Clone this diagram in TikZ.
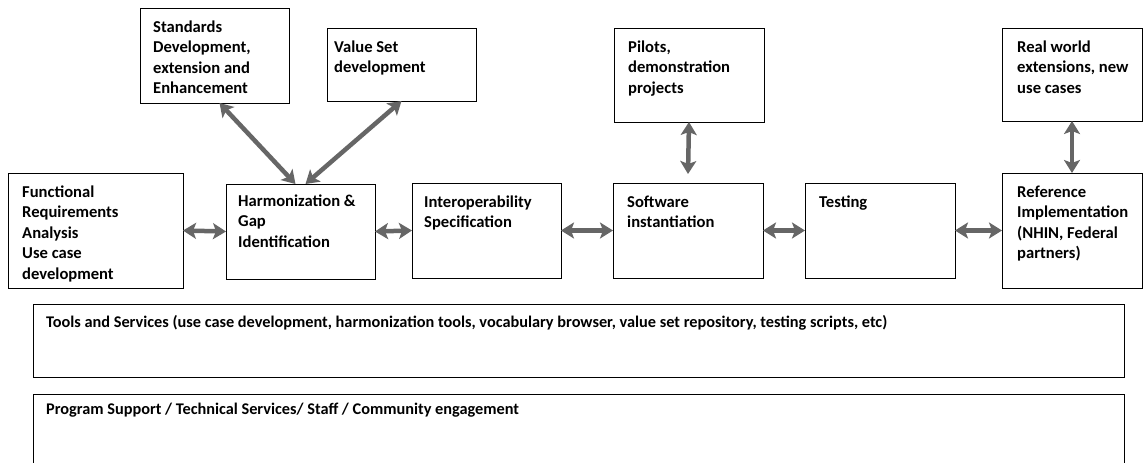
\documentclass[tikz,border=0pt]{standalone}
\usepackage{fontspec}
\setmainfont{Carlito}
\usetikzlibrary{arrows.meta,calc}
\newcommand\boxfont{\fontsize{16.6}{20.5}\selectfont\bfseries}
\newcommand\barfont{\fontsize{16.3}{18}\selectfont\bfseries}
\tikzset{
  boxed/.style={draw=black, line width=1pt, inner sep=0pt, outer sep=0pt, anchor=north west},
  lbl/.style={anchor=north west, align=left, inner sep=0pt, font=\boxfont, text=black},
  barlbl/.style={anchor=west, inner sep=0pt, font=\barfont, text=black},
  biarrow/.style={draw=black!60, line width=4.5pt,
    {Stealth[length=13pt,width=16pt,inset=3pt]}-{Stealth[length=13pt,width=16pt,inset=3pt]}}
}
\begin{document}
\begin{tikzpicture}[x=1pt,y=-1pt]
\useasboundingbox (0,0) rectangle (1143,463);
\clip (0,0) rectangle (1143,463);
\fill[white] (0,0) rectangle (1143,463);
% top row
\node[boxed, minimum width=149pt, minimum height=95pt] (stds) at (140,8) {};
\node[boxed, minimum width=149pt, minimum height=73pt] (vset) at (327,28) {};
\node[boxed, minimum width=150pt, minimum height=94pt] (pilot) at (614,28) {};
\node[boxed, minimum width=140pt, minimum height=93pt] (real) at (1002,28) {};
% middle row
\node[boxed, minimum width=175pt, minimum height=115pt] (func) at (8,173) {};
\node[boxed, minimum width=149pt, minimum height=95pt] (harm) at (226,184) {};
\node[boxed, minimum width=149pt, minimum height=95pt] (inter) at (412,183) {};
\node[boxed, minimum width=150pt, minimum height=95pt] (soft) at (613,183) {};
\node[boxed, minimum width=150pt, minimum height=95pt] (test) at (805,183) {};
\node[boxed, minimum width=140pt, minimum height=115pt] (ref) at (1002,173) {};
% bars
\node[boxed, minimum width=1091pt, minimum height=73pt] (tools) at (33,304) {};
\node[boxed, minimum width=1091pt, minimum height=80pt] (prog) at (33,394) {};
% labels
\node[lbl] (stdsT) at ([shift={(13pt,-12.5pt)}]stds.north west) {Standards\\Development,\\extension and\\Enhancement};
\node[lbl] (vsetT) at ([shift={(7pt,-12.5pt)}]vset.north west) {Value Set\\development};
\node[lbl] (pilotT) at ([shift={(14pt,-12.5pt)}]pilot.north west) {Pilots,\\demonstration\\projects};
\node[lbl] (realT) at ([shift={(15pt,-12.5pt)}]real.north west) {Real world\\extensions, new\\use cases};
\node[lbl] (funcT) at ([shift={(14pt,-12.5pt)}]func.north west) {Functional\\Requirements\\Analysis\\Use case\\development};
\node[lbl] (harmT) at ([shift={(12pt,-10.5pt)}]harm.north west) {Harmonization \&\\Gap\\Identification};
\node[lbl] (interT) at ([shift={(12pt,-12.5pt)}]inter.north west) {Interoperability\\Specification};
\node[lbl] (softT) at ([shift={(14pt,-12.5pt)}]soft.north west) {Software\\instantiation};
\node[lbl] (testT) at ([shift={(14pt,-12.5pt)}]test.north west) {Testing};
\node[lbl] (refT) at ([shift={(15pt,-12.5pt)}]ref.north west) {Reference\\Implementation\\(NHIN, Federal\\partners)};
\node[barlbl] (toolsT) at ([shift={(13pt,-19pt)}]tools.north west) {Tools and Services (use case development, harmonization tools, vocabulary browser, value set repository, testing scripts, etc)};
\node[barlbl] (progT) at ([shift={(13pt,-16pt)}]prog.north west) {Program Support / Technical Services/ Staff / Community engagement};
% arrows
\draw[biarrow] ([xshift=5pt]stds.south) -- ([xshift=-5pt]harm.north);
\draw[biarrow] (vset.south) -- ([xshift=5pt]harm.north);
\draw[biarrow] (pilot.south) -- ([yshift=9pt]soft.north);
\draw[biarrow] (real.south) -- (ref.north);
\draw[biarrow] (func.east) -- (harm.west);
\draw[biarrow] (harm.east) -- (inter.west);
\draw[biarrow] (inter.east) -- (soft.west);
\draw[biarrow] (soft.east) -- (test.west);
\draw[biarrow] (test.east) -- (ref.west);
\end{tikzpicture}
\end{document}
